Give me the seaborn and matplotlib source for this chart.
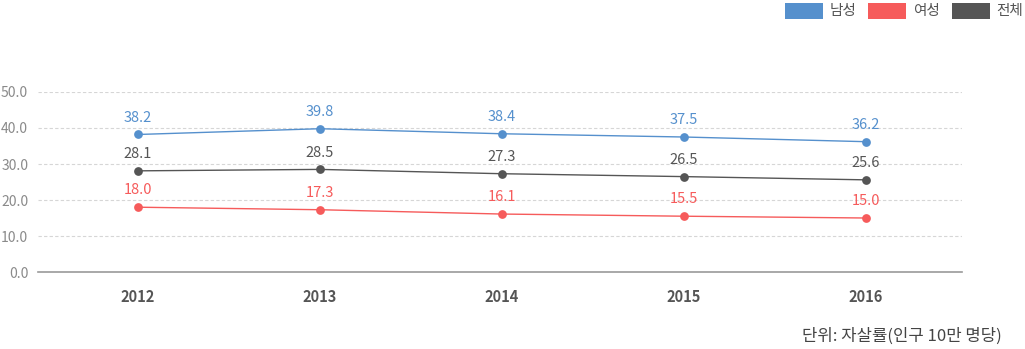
import matplotlib
matplotlib.use("Agg")
import matplotlib.pyplot as plt
from matplotlib.patches import Patch
import seaborn as sns
import pandas as pd

years = ["2012", "2013", "2014", "2015", "2016"]
male = [38.2, 39.8, 38.4, 37.5, 36.2]
female = [18.0, 17.3, 16.1, 15.5, 15.0]
total = [28.1, 28.5, 27.3, 26.5, 25.6]
series_names = ["남성", "여성", "전체"]
colors = ["#5590cd", "#f65b5b", "#555555"]
yticks = [0, 10, 20, 30, 40, 50]

sns.set_theme(style="white")
plt.rcParams['font.family'] = ['Noto Sans CJK KR', 'DejaVu Sans']

df = pd.DataFrame({
    "year": years * 3,
    "x": list(range(len(years))) * 3,
    "value": male + female + total,
    "series": [series_names[0]] * 5 + [series_names[1]] * 5 + [series_names[2]] * 5,
})

fig = plt.figure(figsize=(10.25, 3.49), dpi=100)
ax = fig.add_axes([0.037, 0.2206, 0.9015, 0.5158])

palette = dict(zip(series_names, colors))
sns.lineplot(data=df, x="x", y="value", hue="series", palette=palette,
             marker="o", markersize=6.3, markeredgewidth=0, linewidth=1.0,
             ax=ax, legend=False)

for name, vals in zip(series_names, [male, female, total]):
    for i, v in enumerate(vals):
        ax.annotate(f"{v:.1f}", (i, v), xytext=(0, 7), textcoords="offset points",
                    ha="center", va="bottom", fontsize=10.5, color=palette[name])

ax.set_xlim(-0.55, 4.53)
ax.set_ylim(0, 50)
ax.set_yticks(yticks)
ax.set_yticklabels([f"{t:.1f}" for t in yticks], color="#8a8a8a", fontsize=10)
ax.set_xticks(range(len(years)))
ax.set_xticklabels(years, fontweight="bold", color="#555555", fontsize=10.5)
ax.tick_params(axis="y", length=0, pad=7)
ax.tick_params(axis="x", length=0, pad=12)
ax.set_xlabel("")
ax.set_ylabel("")
for t in yticks[1:]:
    ax.axhline(t, color="#d6d6d6", linewidth=0.8, linestyle=(0, (3, 2)), zorder=0)
for s in ["top", "right", "left"]:
    ax.spines[s].set_visible(False)
ax.spines["bottom"].set_color("#9a9a9a")
ax.spines["bottom"].set_linewidth(1.2)

handles = [Patch(facecolor=c, edgecolor="none") for c in colors]
fig.legend(handles, series_names, loc="upper right", bbox_to_anchor=(1.011, 1.03),
           ncol=3, frameon=False, fontsize=10.5, handlelength=2.6, handleheight=1.3,
           columnspacing=0.85, handletextpad=0.45, labelcolor="#555555")

fig.text(0.977, 0.012, "단위: 자살률(인구 10만 명당)", ha="right", va="bottom",
         fontsize=12, color="#444444")

fig.savefig("out.png", dpi=100)
